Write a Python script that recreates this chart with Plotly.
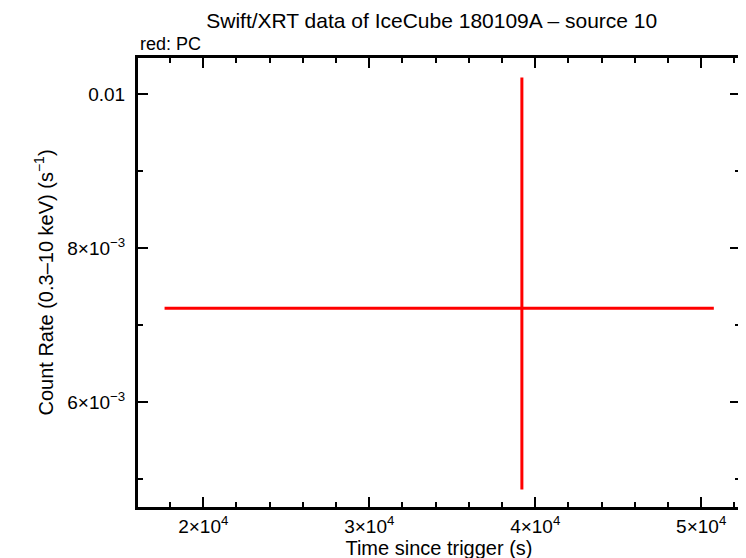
import plotly.graph_objects as go

# Swift/XRT PC mode light curve point
time = [39196]
time_err_minus = [21528]
time_err_plus = [11565]
rate = [7.22e-3]
rate_err_plus = [3.0e-3]
rate_err_minus = [2.36e-3]

x_tickvals = [2e4, 3e4, 4e4, 5e4]
x_ticktext = ["2×10<sup>4</sup>", "3×10<sup>4</sup>", "4×10<sup>4</sup>", "5×10<sup>4</sup>"]
y_tickvals = [6e-3, 8e-3, 0.01]
y_ticktext = ["6×10<sup>−3</sup>", "8×10<sup>−3</sup>", "0.01"]

FONT = "Liberation Sans"

fig = go.Figure()
fig.add_trace(go.Scatter(
    x=time,
    y=rate,
    mode="markers",
    marker=dict(size=1, color="red"),
    error_x=dict(type="data", symmetric=False, array=time_err_plus, arrayminus=time_err_minus,
                 color="red", thickness=3, width=0),
    error_y=dict(type="data", symmetric=False, array=rate_err_plus, arrayminus=rate_err_minus,
                 color="red", thickness=3, width=0),
    showlegend=False,
))

axis_style = dict(
    showline=True, linecolor="black", linewidth=3, mirror="allticks",
    ticks="inside", ticklen=10, tickwidth=2, tickcolor="black",
    showgrid=False, zeroline=False,
    tickfont=dict(family=FONT, size=19, color="black"),
)

fig.update_xaxes(
    range=[16067, 52338],
    tickvals=x_tickvals, ticktext=x_ticktext,
    minor=dict(ticks="inside", ticklen=5, tickwidth=2, tickcolor="black", dtick=2000, tick0=0),
    title=dict(text="Time since trigger (s)", font=dict(family=FONT, size=20, color="black"), standoff=2),
    **axis_style,
)
fig.update_yaxes(
    range=[4.633e-3, 0.010474],
    tickvals=y_tickvals, ticktext=y_ticktext, ticklabelstandoff=6,
    minor=dict(ticks="inside", ticklen=5, tickwidth=2, tickcolor="black", dtick=1e-3, tick0=0),
    title=dict(text="Count Rate (0.3–10 keV) (s<sup>−1</sup>)", font=dict(family=FONT, size=20, color="black"), standoff=9),
    **axis_style,
)

# page body adds an 8px offset, so margins are shifted to keep the plot area in place
fig.update_layout(
    width=746, height=558,
    margin=dict(l=130, r=11, t=50, b=59),
    paper_bgcolor="white", plot_bgcolor="white",
    title=dict(text="Swift/XRT data of IceCube 180109A – source 10", x=0.568, xanchor="center",
               y=0.99, yanchor="top",
               font=dict(family=FONT, size=21, color="black")),
    annotations=[dict(text="red: PC", xref="paper", yref="paper", x=0, y=1.005, xanchor="left", yanchor="bottom",
                      showarrow=False, font=dict(family=FONT, size=18, color="black"))],
)

fig.write_html("out.html")
